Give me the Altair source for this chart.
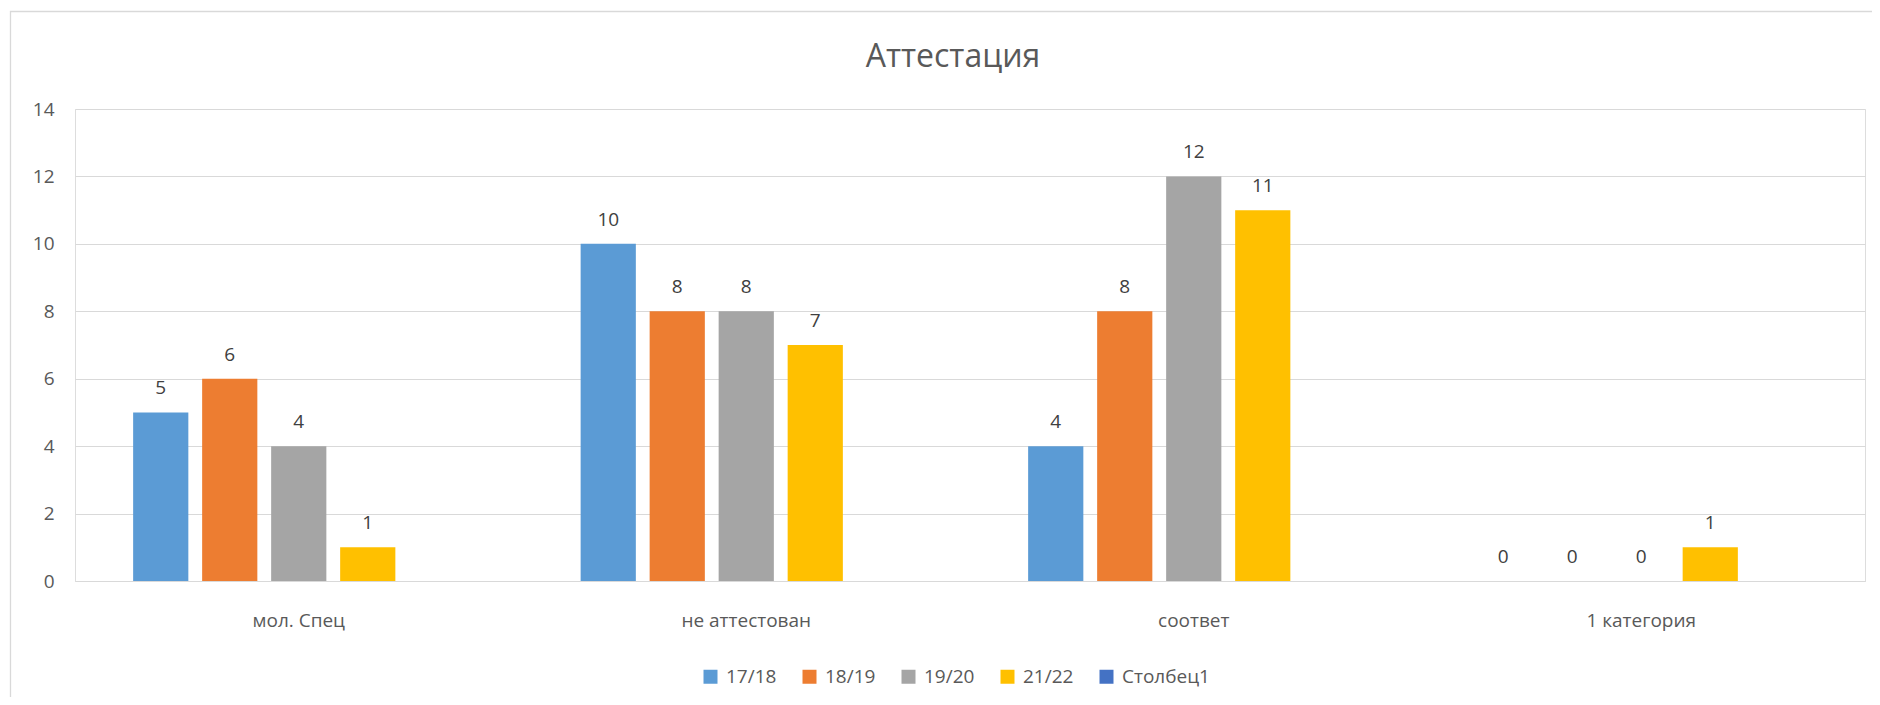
import altair as alt
import pandas as pd

categories = ["мол. Спец", "не аттестован", "соответ", "1 категория"]
series_names = ["17/18", "18/19", "19/20", "21/22", "Столбец1"]
colors = ["#5B9BD5", "#ED7D31", "#A5A5A5", "#FFC000", "#4472C4"]
v_1718 = [5, 10, 4, 0]
v_1819 = [6, 8, 8, 0]
v_1920 = [4, 8, 12, 0]
v_2122 = [1, 7, 11, 1]
y_ticks = [0, 2, 4, 6, 8, 10, 12, 14]

rows = []
for name, vals in zip(series_names[:4], [v_1718, v_1819, v_1920, v_2122]):
    for c, v in zip(categories, vals):
        rows.append({"cat": c, "series": name, "value": v})
df = pd.DataFrame(rows)

FONT = "Open Sans"
W, H = 1790, 472

x_enc = alt.X("cat:N", sort=categories,
              scale=alt.Scale(paddingInner=0.229, paddingOuter=0.1145),
              axis=alt.Axis(title=None, labelAngle=0, ticks=False, domain=True,
                            domainColor="#D9D9D9", labelColor="#595959",
                            labelFontSize=19, labelFont=FONT, labelPadding=30))
xo_enc = alt.XOffset("series:N", sort=series_names,
                     scale=alt.Scale(domain=series_names, paddingInner=0.2, paddingOuter=0.1))
y_enc = alt.Y("value:Q", scale=alt.Scale(domain=[0, 14], nice=False),
              axis=alt.Axis(title=None, values=y_ticks, ticks=False, domain=False,
                            gridColor="#D9D9D9", gridWidth=1, labelColor="#595959",
                            labelFontSize=19, labelFont=FONT, labelPadding=21))

bars = alt.Chart(df).mark_bar().encode(
    x=x_enc,
    xOffset=xo_enc,
    y=y_enc,
    color=alt.Color("series:N", scale=alt.Scale(domain=series_names, range=colors),
                    legend=alt.Legend(title=None, orient="none", direction="horizontal",
                                      legendX=626, legendY=558, symbolType="square",
                                      symbolSize=196, symbolStrokeWidth=0,
                                      labelFontSize=19, labelFont=FONT, labelColor="#595959",
                                      labelOffset=6, columnPadding=23, padding=0)),
)

labels = alt.Chart(df).mark_text(baseline="alphabetic", dy=-18, fontSize=19,
                                 font=FONT, color="#404040").encode(
    x=alt.X("cat:N", sort=categories),
    xOffset=alt.XOffset("series:N", sort=series_names),
    y=alt.Y("value:Q"),
    text=alt.Text("value:Q"),
)

border = alt.Chart(alt.Data(values=[{}])).mark_rect(
    fill=None, stroke="#D9D9D9", strokeWidth=1.3
).encode(x=alt.value(-64.5), x2=alt.value(2200), y=alt.value(-97.5), y2=alt.value(900))

chart = alt.layer(border, bars, labels).properties(
    width=W, height=H,
    title=alt.TitleParams("Аттестация", fontSize=32, font=FONT, fontWeight="normal",
                          color="#595959", anchor="middle", baseline="alphabetic",
                          offset=0, dy=88.5, dx=-17),
    autosize=alt.AutoSizeParams(type="none"),
    padding={"left": 67, "top": 101, "right": 7, "bottom": 116},
).configure_view(stroke=None).configure(background="white")

chart.save("out.html", embed_options={"renderer": "svg", "actions": False})
